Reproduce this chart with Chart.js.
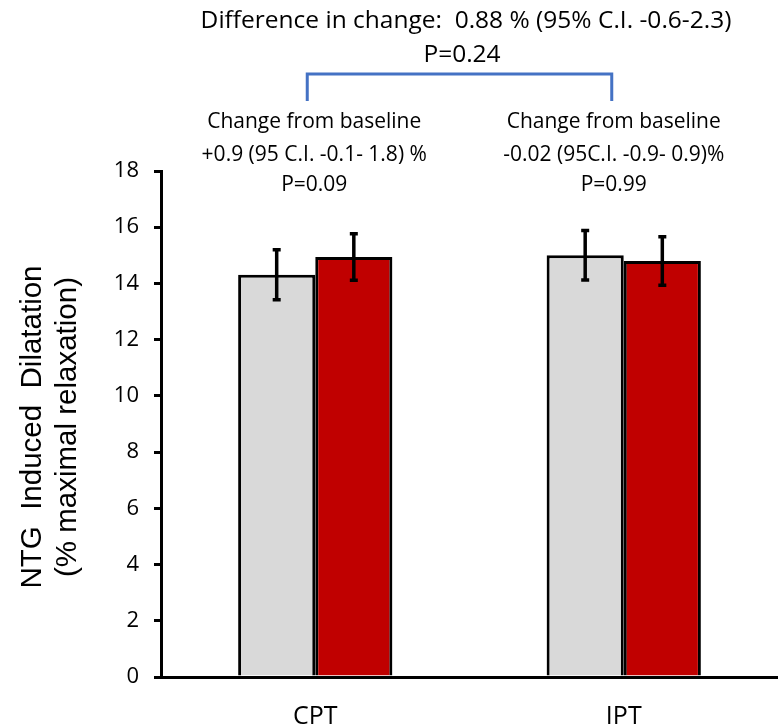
<!DOCTYPE html>
<html>
<head>
<meta charset="utf-8">
<script src="https://cdn.jsdelivr.net/npm/chart.js@4.4.1/dist/chart.umd.min.js"></script>
<style>
  html, body { margin: 0; padding: 0; background: #fff; }
  #wrap { width: 778px; height: 727px; position: relative; }
</style>
</head>
<body>
<div id="wrap"><canvas id="c" width="778" height="727"></canvas></div>
<script>
// ---- data ----
const categories = ['CPT', 'IPT'];
const baselineValues = [14.31, 15.00];
const baselineErrors = [0.89, 0.88];
const followupValues = [14.94, 14.80];
const followupErrors = [0.83, 0.86];
const yTicks = [0, 2, 4, 6, 8, 10, 12, 14, 16, 18];
const yTitleLines = ['NTG  Induced  Dilatation', '(% maximal relaxation)'];
const topNoteLines = ['Difference in change:  0.88 % (95% C.I. -0.6-2.3)', 'P=0.24'];
const groupNotes = [
  ['Change from baseline', '+0.9 (95 C.I. -0.1- 1.8) %', 'P=0.09'],
  ['Change from baseline', '-0.02 (95C.I. -0.9- 0.9)%', 'P=0.99']
];

const SANS = '"Open Sans", "Noto Sans", sans-serif';

const errorBarPlugin = {
  id: 'errorBars',
  afterDatasetsDraw(chart) {
    const ctx = chart.ctx;
    const yScale = chart.scales.y;
    chart.data.datasets.forEach((ds, di) => {
      const meta = chart.getDatasetMeta(di);
      meta.data.forEach((bar, i) => {
        const v = ds.data[i], e = ds.errors[i];
        const yTop = yScale.getPixelForValue(v + e);
        const yBot = yScale.getPixelForValue(v - e);
        const x = bar.x;
        ctx.save();
        ctx.strokeStyle = '#000';
        ctx.lineWidth = 3.5;
        ctx.beginPath();
        ctx.moveTo(x, yTop); ctx.lineTo(x, yBot);
        ctx.moveTo(x - 4, yTop); ctx.lineTo(x + 4, yTop);
        ctx.moveTo(x - 4, yBot); ctx.lineTo(x + 4, yBot);
        ctx.stroke();
        ctx.restore();
      });
    });
  }
};

const annotationPlugin = {
  id: 'annotations',
  afterDraw(chart) {
    const ctx = chart.ctx;
    const xScale = chart.scales.x;
    ctx.save();
    ctx.fillStyle = '#000';
    ctx.textAlign = 'center';
    ctx.textBaseline = 'alphabetic';
    // top note
    ctx.font = '24.5px ' + SANS;
    ctx.fillText(topNoteLines[0], 466, 28);
    ctx.fillText(topNoteLines[1], 462, 62);
    // group notes
    const c0 = xScale.getPixelForValue(0);
    const c1 = xScale.getPixelForValue(1);
    ctx.font = '21px ' + SANS;
    [c0, c1].forEach((cx, gi) => {
      const lines = groupNotes[gi];
      const ys = [128, 161, 191];
      lines.forEach((t, li) => ctx.fillText(t, cx - 1 - gi * 9, ys[li]));
    });
    // bracket
    ctx.strokeStyle = '#4472C4';
    ctx.lineWidth = 3;
    ctx.beginPath();
    ctx.moveTo(c0 - 8, 101);
    ctx.lineTo(c0 - 8, 74);
    ctx.lineTo(c1 - 12, 74);
    ctx.lineTo(c1 - 12, 101);
    ctx.stroke();
    // y title
    ctx.font = '29.5px "Liberation Sans", Arial, sans-serif';
    ctx.textBaseline = 'middle';
    ctx.translate(0, 427);
    ctx.rotate(-Math.PI / 2);
    ctx.fillText(yTitleLines[0], 0, 33);
    ctx.fillText(yTitleLines[1], 0, 68);
    ctx.restore();
  }
};

new Chart(document.getElementById('c'), {
  type: 'bar',
  data: {
    labels: categories,
    datasets: [
      { label: 'Baseline', data: baselineValues, errors: baselineErrors,
        backgroundColor: '#D9D9D9', borderColor: '#000', borderWidth: 3,
        categoryPercentage: 0.5, barPercentage: 1.0 },
      { label: 'Follow-up', data: followupValues, errors: followupErrors,
        backgroundColor: '#C00000', borderColor: '#000', borderWidth: 3,
        categoryPercentage: 0.5, barPercentage: 1.0 }
    ]
  },
  options: {
    responsive: false,
    animation: false,
    events: [],
    layout: { padding: { top: 171, right: 0, bottom: 0, left: 0 } },
    plugins: { legend: { display: false }, tooltip: { enabled: false } },
    scales: {
      x: {
        grid: { display: false },
        border: { display: true, color: '#000', width: 3 },
        ticks: { color: '#000', font: { family: SANS, size: 25 }, padding: 17 },
        afterFit(s) { s.height = 50; }
      },
      y: {
        min: 0, max: 18,
        afterBuildTicks(s) { s.ticks = yTicks.map(v => ({ value: v })); },
        grid: { drawOnChartArea: false, drawTicks: true, tickLength: 7, color: '#000', lineWidth: 3 },
        border: { display: true, color: '#000', width: 3 },
        ticks: { color: '#000', font: { family: SANS, size: 22 }, padding: 15 },
        afterFit(s) { s.width = 161; }
      }
    }
  },
  plugins: [errorBarPlugin, annotationPlugin]
});
</script>
</body>
</html>
